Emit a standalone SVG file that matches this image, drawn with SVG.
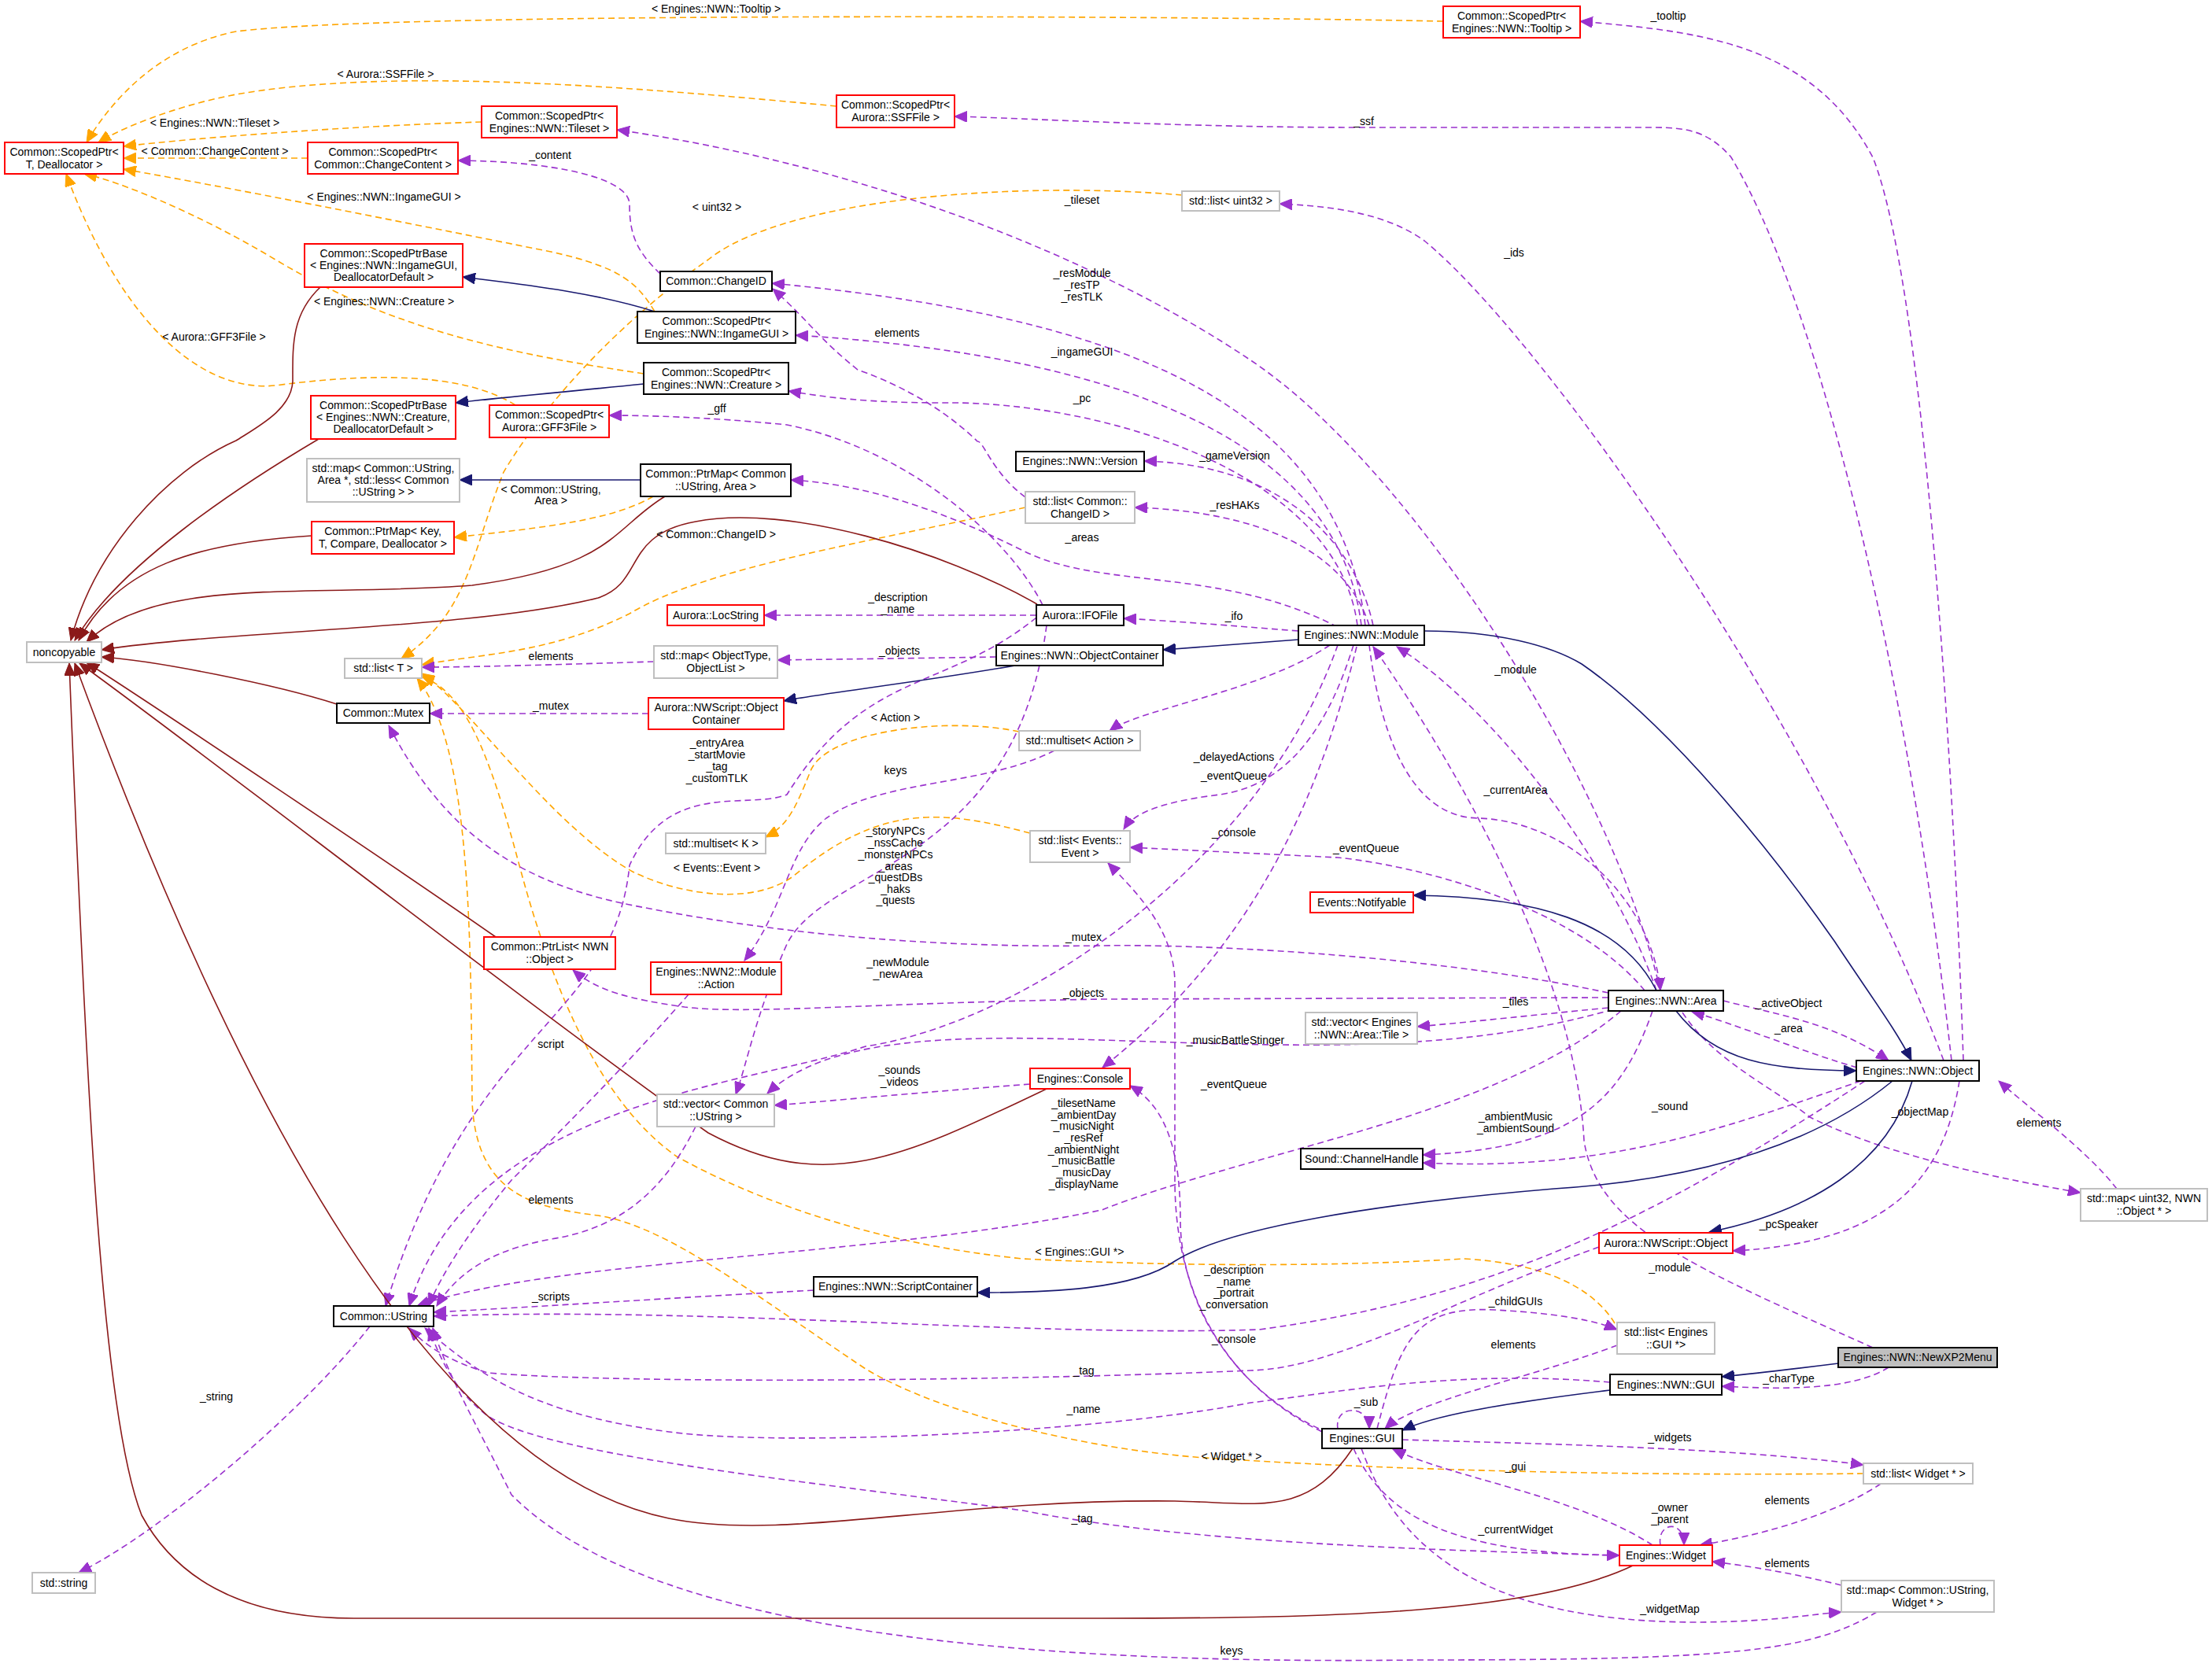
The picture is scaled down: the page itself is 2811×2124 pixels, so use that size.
<svg xmlns="http://www.w3.org/2000/svg" width="2811" height="2124" viewBox="0 0 2811 2124">
<style>
text{font-family:"Liberation Sans",Arial,sans-serif;font-size:14px;fill:#000}
.nt{text-anchor:middle}
.n rect{fill:#fff;stroke-width:2}
.b rect{stroke:#000}
.r rect{stroke:#ff0000}
.g rect{stroke:#bfbfbf}
.s rect{fill:#bfbfbf;stroke:#000}
path{fill:none;stroke-width:1.6}
.p{stroke:#9a32cd;stroke-dasharray:8,5;marker-end:url(#ap)}
.o{stroke:#ffa500;stroke-dasharray:8,5;marker-end:url(#ao)}
.v{stroke:#191970;marker-end:url(#av)}
.f{stroke:#8b1a1a;marker-end:url(#af)}
.l{text-anchor:middle}
</style>
<defs>
<marker id="ap" markerUnits="userSpaceOnUse" markerWidth="18" markerHeight="14" refX="16" refY="7" orient="auto"><path d="M0,0L16,7L0,14z" style="fill:#9a32cd;stroke:#9a32cd;stroke-width:1"/></marker>
<marker id="ao" markerUnits="userSpaceOnUse" markerWidth="18" markerHeight="14" refX="16" refY="7" orient="auto"><path d="M0,0L16,7L0,14z" style="fill:#ffa500;stroke:#ffa500;stroke-width:1"/></marker>
<marker id="av" markerUnits="userSpaceOnUse" markerWidth="18" markerHeight="14" refX="16" refY="7" orient="auto"><path d="M0,0L16,7L0,14z" style="fill:#191970;stroke:#191970;stroke-width:1"/></marker>
<marker id="af" markerUnits="userSpaceOnUse" markerWidth="18" markerHeight="14" refX="16" refY="7" orient="auto"><path d="M0,0L16,7L0,14z" style="fill:#8b1a1a;stroke:#8b1a1a;stroke-width:1"/></marker>
</defs>
<rect width="2811" height="2124" fill="#fff"/>
<g id="edges">
<path class="o" d="M1834,27 C1500,20 500,15 300,40 C200,60 140,130 110,181"/>
<path class="o" d="M1063,135 C800,110 500,85 300,120 C220,135 150,165 125,181"/>
<path class="o" d="M612,155 C450,160 250,175 157,186"/>
<path class="o" d="M391,201 L157,201"/>
<path class="o" d="M832,396 C810,360 790,340 700,320 C500,280 300,240 157,215"/>
<path class="o" d="M818,475 C650,450 500,420 350,330 C250,270 150,230 107,221"/>
<path class="o" d="M655,515 C600,480 500,470 350,490 C250,500 150,400 84,221"/>
<path class="o" d="M1502,248 C1300,230 1000,250 900,330 C800,400 700,500 640,600 C600,700 596,780 510,837"/>
<path class="o" d="M1303,645 C1100,690 900,720 800,780 C700,830 620,830 536,845"/>
<path class="o" d="M1309,1059 C1200,1030 1120,1020 1009,1113 C960,1150 870,1140 804,1108 C700,1050 600,900 536,856"/>
<path class="o" d="M1295,930 C1200,910 1050,930 1030,980 C1010,1030 1000,1050 973,1064"/>
<path class="o" d="M830,631 C780,660 700,670 577,683"/>
<path class="o" d="M2052,1682 C2020,1630 1950,1605 1860,1600 C1700,1610 1500,1610 1300,1600 C1100,1580 950,1520 860,1470 C760,1400 700,1250 660,1100 C620,950 590,880 536,860"/>
<path class="o" d="M2368,1873 C2100,1876 1800,1870 1565,1855 C1400,1848 1200,1800 1100,1740 C950,1640 850,1560 760,1545 C680,1535 605,1520 600,1400 C598,1200 600,950 530,862"/>
<path class="p" d="M2495,1348 C2480,900 2440,350 2380,200 C2300,50 2150,40 2008,27"/>
<path class="p" d="M2480,1348 C2430,900 2320,400 2200,200 C2170,165 2140,162 2100,162 L1733,162 C1500,162 1300,150 1213,148"/>
<path class="p" d="M2110,1259 C2050,1000 1800,600 1591,459 C1400,330 1100,210 784,165"/>
<path class="p" d="M2470,1348 C2300,900 1950,420 1810,306 C1760,270 1690,262 1626,259"/>
<path class="p" d="M1735,795 C1700,500 1400,400 981,360"/>
<path class="p" d="M1730,795 C1700,550 1400,450 1011,426"/>
<path class="p" d="M1303,632 C1260,600 1250,560 1242,561 C1180,500 1100,474 1090,470 C1040,430 1030,410 982,367"/>
<path class="p" d="M1725,795 C1700,600 1400,510 1200,512 C1100,512 1050,505 1002,497"/>
<path class="p" d="M1325,769 C1280,680 1150,570 1000,540 C900,530 820,528 774,528"/>
<path class="p" d="M1700,797 C1550,720 1400,750 1300,700 C1200,650 1100,615 1005,610"/>
<path class="p" d="M1745,795 C1720,680 1620,590 1454,586"/>
<path class="p" d="M1740,795 C1710,700 1600,650 1442,645"/>
<path class="p" d="M1650,802 C1560,795 1500,790 1428,786"/>
<path class="p" d="M1317,782 L971,782"/>
<path class="p" d="M1266,835 C1150,837 1050,838 988,839"/>
<path class="p" d="M831,841 C700,845 600,848 536,848"/>
<path class="p" d="M824,907 L546,907"/>
<path class="p" d="M2044,1262 C1800,1210 1500,1200 1400,1202 C1200,1205 1000,1190 800,1150 C650,1120 560,1050 494,922"/>
<path class="p" d="M1690,820 C1600,880 1450,900 1410,929"/>
<path class="p" d="M1340,954 C1250,1000 1120,990 1050,1040 C1000,1080 1000,1150 946,1221"/>
<path class="p" d="M1720,820 C1680,950 1620,1000 1550,1010 C1470,1020 1440,1035 1428,1054"/>
<path class="p" d="M2090,1259 C2000,1150 1800,1100 1700,1090 L1436,1077"/>
<path class="p" d="M1680,1820 C1560,1760 1493,1650 1493,1500 L1493,1250 C1493,1180 1440,1130 1408,1097"/>
<path class="p" d="M1724,822 C1680,1000 1600,1200 1401,1357"/>
<path class="p" d="M1676,1816 C1560,1760 1500,1650 1500,1550 C1500,1440 1470,1400 1436,1380"/>
<path class="p" d="M1309,1378 C1150,1390 1050,1400 984,1405"/>
<path class="p" d="M2050,1283 C1850,1340 1650,1330 1400,1322 C1200,1315 1050,1320 975,1390"/>
<path class="p" d="M1330,795 C1290,1100 1050,1100 1000,1200 C960,1290 950,1350 935,1391"/>
<path class="p" d="M1317,785 C1200,880 1100,850 1000,1010 C950,1030 850,990 800,1100 C780,1300 600,1300 490,1660"/>
<path class="p" d="M1700,820 C1600,1100 1300,1300 1100,1330 C950,1380 600,1400 520,1660"/>
<path class="p" d="M2190,1272 C2260,1290 2330,1300 2400,1348"/>
<path class="p" d="M2360,1357 C2300,1340 2200,1300 2150,1286"/>
<path class="p" d="M2105,1259 C2050,1100 1900,900 1775,822"/>
<path class="p" d="M1740,820 C1750,900 1780,1040 1880,1040 C2000,1045 2100,1150 2110,1259"/>
<path class="p" d="M2044,1268 L1400,1270 C1100,1275 950,1290 870,1280 C800,1270 760,1260 728,1233"/>
<path class="p" d="M2044,1281 C1950,1290 1880,1298 1801,1305"/>
<path class="p" d="M2380,1713 C2150,1610 2030,1560 2013,1450 C2000,1200 1800,900 1745,822"/>
<path class="p" d="M2060,1285 C1900,1420 1600,1460 1400,1538 C1100,1600 700,1600 530,1660"/>
<path class="p" d="M2100,1285 C2060,1400 2000,1460 1808,1468"/>
<path class="p" d="M2365,1374 C2200,1430 2050,1490 1808,1478"/>
<path class="p" d="M1034,1640 C850,1650 700,1660 551,1668"/>
<path class="p" d="M2370,1374 C2100,1550 1900,1650 1600,1690 C1300,1700 900,1660 551,1673"/>
<path class="p" d="M2032,1585 C1850,1650 1700,1740 1589,1742 C1300,1755 800,1760 620,1745 C570,1730 540,1710 520,1688"/>
<path class="p" d="M2046,1757 C1850,1740 1700,1770 1589,1783 C1400,1820 1000,1840 850,1820 C700,1800 620,1760 540,1688"/>
<path class="p" d="M2058,1977 C1800,1970 1500,1960 1300,1920 C1000,1880 700,1850 620,1800 C580,1770 560,1730 545,1688"/>
<path class="p" d="M2100,1964 C2000,1900 1850,1880 1770,1842"/>
<path class="p" d="M1720,1841 C1760,1930 1850,1975 2058,1977"/>
<path class="p" d="M1782,1830 C1950,1835 2200,1840 2368,1862"/>
<path class="p" d="M2390,1886 C2340,1920 2250,1950 2160,1964"/>
<path class="p" d="M2110,1964 C2105,1935 2140,1930 2140,1964"/>
<path class="p" d="M2340,2015 C2280,2000 2220,1990 2176,1985"/>
<path class="p" d="M1730,1841 C1780,1980 1900,2060 2150,2062 C2250,2062 2300,2052 2340,2049"/>
<path class="p" d="M2385,2049 C2300,2100 2200,2110 1800,2110 C1000,2120 750,2000 650,1900 C600,1800 570,1750 550,1688"/>
<path class="p" d="M1700,1816 C1695,1785 1740,1785 1740,1816"/>
<path class="p" d="M1750,1816 C1780,1700 1800,1660 1900,1665 C1990,1670 2030,1680 2055,1690"/>
<path class="p" d="M2055,1710 C1950,1750 1800,1780 1760,1816"/>
<path class="p" d="M2400,1738 C2350,1770 2250,1765 2188,1762"/>
<path class="p" d="M2490,1374 C2470,1500 2400,1580 2202,1590"/>
<path class="p" d="M2138,1287 C2180,1350 2250,1380 2300,1420 C2400,1470 2550,1500 2644,1516"/>
<path class="p" d="M2690,1511 C2650,1460 2580,1410 2540,1374"/>
<path class="p" d="M839,348 C810,320 800,300 800,260 C800,225 700,205 582,204"/>
<path class="p" d="M875,1264 C800,1350 700,1450 650,1500 C600,1560 560,1620 545,1660"/>
<path class="p" d="M884,1432 C850,1500 800,1560 700,1575 C620,1590 580,1620 555,1660"/>
<path class="p" d="M470,1686 C380,1800 200,1950 100,1999"/>
<path class="v" d="M832,396 C750,370 650,360 588,352"/>
<path class="v" d="M818,488 C700,500 640,505 579,512"/>
<path class="v" d="M814,610 L584,610"/>
<path class="v" d="M1650,813 L1478,826"/>
<path class="v" d="M1290,846 C1150,870 1050,880 996,891"/>
<path class="v" d="M2105,1259 C2060,1170 1950,1140 1796,1138"/>
<path class="v" d="M2130,1285 C2180,1350 2250,1360 2359,1361"/>
<path class="v" d="M1810,802 C1900,802 1970,820 2010,844 C2120,920 2250,1080 2331,1196 C2380,1270 2410,1310 2429,1348"/>
<path class="v" d="M2405,1374 C2300,1460 2150,1500 1975,1511 C1750,1530 1560,1560 1493,1603 C1440,1640 1330,1643 1242,1643"/>
<path class="v" d="M2430,1374 C2400,1480 2300,1540 2172,1566"/>
<path class="v" d="M2336,1733 C2280,1740 2240,1745 2188,1750"/>
<path class="v" d="M2046,1767 C1900,1785 1820,1800 1782,1818"/>
<path class="f" d="M407,365 C370,400 372,440 372,485 C370,520 330,541 300,560 C210,600 120,700 90,814"/>
<path class="f" d="M405,558 C300,620 150,720 95,814"/>
<path class="f" d="M396,681 C250,690 150,720 100,814"/>
<path class="f" d="M845,631 C780,670 780,720 600,744 C400,760 200,730 110,816"/>
<path class="f" d="M1318,768 C1200,700 1000,640 884,663 C790,680 820,740 760,760 C600,800 300,800 129,826"/>
<path class="f" d="M428,895 C350,870 200,840 129,835"/>
<path class="f" d="M630,1191 C500,1100 200,900 110,842"/>
<path class="f" d="M1330,1384 C1150,1470 1050,1520 900,1440 C700,1300 250,950 101,843"/>
<path class="f" d="M1719,1841 C1660,1930 1600,1910 1493,1908 C1200,1905 1000,1960 850,1930 C550,1870 300,1400 95,843"/>
<path class="f" d="M2075,1990 C1950,2050 1700,2057 1400,2057 L450,2057 C300,2057 220,2000 180,1926 C130,1800 110,1400 88,843"/>
</g>
<g id="labels">
<text class="l" x="910" y="16">&lt; Engines::NWN::Tooltip &gt;</text>
<text class="l" x="490" y="99">&lt; Aurora::SSFFile &gt;</text>
<text class="l" x="273" y="161">&lt; Engines::NWN::Tileset &gt;</text>
<text class="l" x="273" y="197">&lt; Common::ChangeContent &gt;</text>
<text class="l" x="488" y="255">&lt; Engines::NWN::IngameGUI &gt;</text>
<text class="l" x="488" y="388">&lt; Engines::NWN::Creature &gt;</text>
<text class="l" x="272" y="433">&lt; Aurora::GFF3File &gt;</text>
<text class="l" x="911" y="268">&lt; uint32 &gt;</text>
<text class="l" x="700" y="627">&lt; Common::UString,</text>
<text class="l" x="700" y="641">Area &gt;</text>
<text class="l" x="910" y="684">&lt; Common::ChangeID &gt;</text>
<text class="l" x="1138" y="917">&lt; Action &gt;</text>
<text class="l" x="911" y="1108">&lt; Events::Event &gt;</text>
<text class="l" x="1372" y="1596">&lt; Engines::GUI *&gt;</text>
<text class="l" x="1565" y="1856">&lt; Widget * &gt;</text>
<text class="l" x="2120" y="25">_tooltip</text>
<text class="l" x="1733" y="159">_ssf</text>
<text class="l" x="1375" y="259">_tileset</text>
<text class="l" x="1924" y="326">_ids</text>
<text class="l" x="1375" y="352">_resModule</text>
<text class="l" x="1375" y="367">_resTP</text>
<text class="l" x="1375" y="382">_resTLK</text>
<text class="l" x="1140" y="428">elements</text>
<text class="l" x="1375" y="452">_ingameGUI</text>
<text class="l" x="1375" y="511">_pc</text>
<text class="l" x="911" y="524">_gff</text>
<text class="l" x="699" y="202">_content</text>
<text class="l" x="1375" y="688">_areas</text>
<text class="l" x="1569" y="584">_gameVersion</text>
<text class="l" x="1569" y="647">_resHAKs</text>
<text class="l" x="1568" y="788">_ifo</text>
<text class="l" x="1141" y="764">_description</text>
<text class="l" x="1141" y="779">_name</text>
<text class="l" x="1143" y="832">_objects</text>
<text class="l" x="700" y="839">elements</text>
<text class="l" x="700" y="902">_mutex</text>
<text class="l" x="1568" y="967">_delayedActions</text>
<text class="l" x="911" y="949">_entryArea</text>
<text class="l" x="911" y="964">_startMovie</text>
<text class="l" x="911" y="979">_tag</text>
<text class="l" x="911" y="994">_customTLK</text>
<text class="l" x="1138" y="984">keys</text>
<text class="l" x="1568" y="991">_eventQueue</text>
<text class="l" x="1568" y="1063">_console</text>
<text class="l" x="1736" y="1083">_eventQueue</text>
<text class="l" x="1138" y="1061">_storyNPCs</text>
<text class="l" x="1138" y="1076">_nssCache</text>
<text class="l" x="1138" y="1091">_monsterNPCs</text>
<text class="l" x="1138" y="1106">_areas</text>
<text class="l" x="1138" y="1120">_questDBs</text>
<text class="l" x="1138" y="1135">_haks</text>
<text class="l" x="1138" y="1149">_quests</text>
<text class="l" x="1926" y="856">_module</text>
<text class="l" x="1926" y="1009">_currentArea</text>
<text class="l" x="1377" y="1196">_mutex</text>
<text class="l" x="1141" y="1228">_newModule</text>
<text class="l" x="1141" y="1243">_newArea</text>
<text class="l" x="1377" y="1267">_objects</text>
<text class="l" x="1926" y="1278">_tiles</text>
<text class="l" x="700" y="1332">script</text>
<text class="l" x="1570" y="1327">_musicBattleStinger</text>
<text class="l" x="1143" y="1365">_sounds</text>
<text class="l" x="1143" y="1380">_videos</text>
<text class="l" x="1568" y="1383">_eventQueue</text>
<text class="l" x="1377" y="1407">_tilesetName</text>
<text class="l" x="1377" y="1422">_ambientDay</text>
<text class="l" x="1377" y="1436">_musicNight</text>
<text class="l" x="1377" y="1451">_resRef</text>
<text class="l" x="1377" y="1466">_ambientNight</text>
<text class="l" x="1377" y="1480">_musicBattle</text>
<text class="l" x="1377" y="1495">_musicDay</text>
<text class="l" x="1377" y="1510">_displayName</text>
<text class="l" x="2273" y="1280">_activeObject</text>
<text class="l" x="2273" y="1312">_area</text>
<text class="l" x="1926" y="1424">_ambientMusic</text>
<text class="l" x="1926" y="1439">_ambientSound</text>
<text class="l" x="2122" y="1411">_sound</text>
<text class="l" x="2440" y="1418">_objectMap</text>
<text class="l" x="2591" y="1432">elements</text>
<text class="l" x="2273" y="1561">_pcSpeaker</text>
<text class="l" x="2122" y="1616">_module</text>
<text class="l" x="700" y="1530">elements</text>
<text class="l" x="1568" y="1619">_description</text>
<text class="l" x="1568" y="1634">_name</text>
<text class="l" x="1568" y="1648">_portrait</text>
<text class="l" x="1568" y="1663">_conversation</text>
<text class="l" x="700" y="1653">_scripts</text>
<text class="l" x="1926" y="1659">_childGUIs</text>
<text class="l" x="1923" y="1714">elements</text>
<text class="l" x="1568" y="1707">_console</text>
<text class="l" x="1377" y="1747">_tag</text>
<text class="l" x="2273" y="1757">_charType</text>
<text class="l" x="1736" y="1787">_sub</text>
<text class="l" x="1377" y="1796">_name</text>
<text class="l" x="275" y="1780">_string</text>
<text class="l" x="2122" y="1832">_widgets</text>
<text class="l" x="1926" y="1869">_gui</text>
<text class="l" x="2271" y="1912">elements</text>
<text class="l" x="2122" y="1921">_owner</text>
<text class="l" x="2122" y="1936">_parent</text>
<text class="l" x="1375" y="1935">_tag</text>
<text class="l" x="1926" y="1949">_currentWidget</text>
<text class="l" x="2271" y="1992">elements</text>
<text class="l" x="2122" y="2050">_widgetMap</text>
<text class="l" x="1565" y="2103">keys</text>
</g>
<g id="n1" class="n r"><rect x="6" y="181" width="151" height="40"/><text class="nt" x="81.5" y="198">Common::ScopedPtr&lt;</text><text class="nt" x="81.5" y="214">T, Deallocator &gt;</text></g>
<g id="n2" class="n r"><rect x="391" y="181" width="191" height="40"/><text class="nt" x="486.5" y="198">Common::ScopedPtr&lt;</text><text class="nt" x="486.5" y="214">Common::ChangeContent &gt;</text></g>
<g id="n3" class="n r"><rect x="612" y="135" width="172" height="40"/><text class="nt" x="698" y="152">Common::ScopedPtr&lt;</text><text class="nt" x="698" y="168">Engines::NWN::Tileset &gt;</text></g>
<g id="n4" class="n r"><rect x="1063" y="121" width="150" height="41"/><text class="nt" x="1138" y="138">Common::ScopedPtr&lt;</text><text class="nt" x="1138" y="154">Aurora::SSFFile &gt;</text></g>
<g id="n5" class="n r"><rect x="1834" y="8" width="174" height="40"/><text class="nt" x="1921" y="25">Common::ScopedPtr&lt;</text><text class="nt" x="1921" y="41">Engines::NWN::Tooltip &gt;</text></g>
<g id="n6" class="n r"><rect x="387" y="310" width="201" height="55"/><text class="nt" x="487.5" y="327">Common::ScopedPtrBase</text><text class="nt" x="487.5" y="342">&lt; Engines::NWN::IngameGUI,</text><text class="nt" x="487.5" y="357">DeallocatorDefault &gt;</text></g>
<g id="n7" class="n b"><rect x="839" y="345" width="142" height="25"/><text class="nt" x="910" y="362">Common::ChangeID</text></g>
<g id="n8" class="n b"><rect x="810" y="396" width="201" height="40"/><text class="nt" x="910.5" y="413">Common::ScopedPtr&lt;</text><text class="nt" x="910.5" y="429">Engines::NWN::IngameGUI &gt;</text></g>
<g id="n9" class="n b"><rect x="818" y="461" width="184" height="40"/><text class="nt" x="910" y="478">Common::ScopedPtr&lt;</text><text class="nt" x="910" y="494">Engines::NWN::Creature &gt;</text></g>
<g id="n10" class="n r"><rect x="395" y="503" width="184" height="55"/><text class="nt" x="487" y="520">Common::ScopedPtrBase</text><text class="nt" x="487" y="535">&lt; Engines::NWN::Creature,</text><text class="nt" x="487" y="550">DeallocatorDefault &gt;</text></g>
<g id="n11" class="n r"><rect x="622" y="515" width="152" height="41"/><text class="nt" x="698" y="532">Common::ScopedPtr&lt;</text><text class="nt" x="698" y="548">Aurora::GFF3File &gt;</text></g>
<g id="n12" class="n g"><rect x="390" y="583" width="194" height="55"/><text class="nt" x="487" y="600">std::map&lt; Common::UString,</text><text class="nt" x="487" y="615">Area *, std::less&lt; Common</text><text class="nt" x="487" y="630">::UString &gt; &gt;</text></g>
<g id="n13" class="n b"><rect x="814" y="590" width="191" height="41"/><text class="nt" x="909.5" y="607">Common::PtrMap&lt; Common</text><text class="nt" x="909.5" y="623">::UString, Area &gt;</text></g>
<g id="n14" class="n r"><rect x="396" y="663" width="181" height="41"/><text class="nt" x="486.5" y="680">Common::PtrMap&lt; Key,</text><text class="nt" x="486.5" y="696">T, Compare, Deallocator &gt;</text></g>
<g id="n15" class="n r"><rect x="848" y="769" width="123" height="26"/><text class="nt" x="909.5" y="787">Aurora::LocString</text></g>
<g id="n16" class="n g"><rect x="1502" y="243" width="124" height="25"/><text class="nt" x="1564" y="260">std::list&lt; uint32 &gt;</text></g>
<g id="n17" class="n b"><rect x="1291" y="574" width="163" height="25"/><text class="nt" x="1372.5" y="591">Engines::NWN::Version</text></g>
<g id="n18" class="n g"><rect x="1303" y="625" width="139" height="40"/><text class="nt" x="1372.5" y="642">std::list&lt; Common::</text><text class="nt" x="1372.5" y="658">ChangeID &gt;</text></g>
<g id="n19" class="n b"><rect x="1317" y="769" width="111" height="26"/><text class="nt" x="1372.5" y="787">Aurora::IFOFile</text></g>
<g id="n20" class="n g"><rect x="34" y="816" width="95" height="26"/><text class="nt" x="81.5" y="834">noncopyable</text></g>
<g id="n21" class="n g"><rect x="438" y="837" width="98" height="25"/><text class="nt" x="487" y="854">std::list&lt; T &gt;</text></g>
<g id="n22" class="n g"><rect x="831" y="821" width="157" height="41"/><text class="nt" x="909.5" y="838">std::map&lt; ObjectType,</text><text class="nt" x="909.5" y="854">ObjectList &gt;</text></g>
<g id="n23" class="n b"><rect x="1266" y="820" width="212" height="26"/><text class="nt" x="1372" y="838">Engines::NWN::ObjectContainer</text></g>
<g id="n24" class="n b"><rect x="428" y="894" width="118" height="25"/><text class="nt" x="487" y="911">Common::Mutex</text></g>
<g id="n25" class="n r"><rect x="824" y="887" width="172" height="40"/><text class="nt" x="910" y="904">Aurora::NWScript::Object</text><text class="nt" x="910" y="920">Container</text></g>
<g id="n26" class="n g"><rect x="1295" y="929" width="154" height="25"/><text class="nt" x="1372" y="946">std::multiset&lt; Action &gt;</text></g>
<g id="n27" class="n g"><rect x="846" y="1059" width="127" height="26"/><text class="nt" x="909.5" y="1077">std::multiset&lt; K &gt;</text></g>
<g id="n28" class="n g"><rect x="1309" y="1056" width="127" height="40"/><text class="nt" x="1372.5" y="1073">std::list&lt; Events::</text><text class="nt" x="1372.5" y="1089">Event &gt;</text></g>
<g id="n29" class="n r"><rect x="615" y="1191" width="167" height="41"/><text class="nt" x="698.5" y="1208">Common::PtrList&lt; NWN</text><text class="nt" x="698.5" y="1224">::Object &gt;</text></g>
<g id="n30" class="n r"><rect x="827" y="1223" width="166" height="41"/><text class="nt" x="910" y="1240">Engines::NWN2::Module</text><text class="nt" x="910" y="1256">::Action</text></g>
<g id="n31" class="n r"><rect x="1309" y="1358" width="127" height="26"/><text class="nt" x="1372.5" y="1376">Engines::Console</text></g>
<g id="n32" class="n g"><rect x="835" y="1391" width="149" height="41"/><text class="nt" x="909.5" y="1408">std::vector&lt; Common</text><text class="nt" x="909.5" y="1424">::UString &gt;</text></g>
<g id="n33" class="n b"><rect x="1650" y="795" width="160" height="25"/><text class="nt" x="1730" y="812">Engines::NWN::Module</text></g>
<g id="n34" class="n r"><rect x="1665" y="1134" width="131" height="26"/><text class="nt" x="1730.5" y="1152">Events::Notifyable</text></g>
<g id="n35" class="n b"><rect x="2044" y="1259" width="146" height="26"/><text class="nt" x="2117" y="1277">Engines::NWN::Area</text></g>
<g id="n36" class="n g"><rect x="1659" y="1287" width="142" height="40"/><text class="nt" x="1730" y="1304">std::vector&lt; Engines</text><text class="nt" x="1730" y="1320">::NWN::Area::Tile &gt;</text></g>
<g id="n37" class="n b"><rect x="2359" y="1348" width="156" height="26"/><text class="nt" x="2437" y="1366">Engines::NWN::Object</text></g>
<g id="n38" class="n b"><rect x="1653" y="1460" width="155" height="26"/><text class="nt" x="1730.5" y="1478">Sound::ChannelHandle</text></g>
<g id="n39" class="n g"><rect x="2644" y="1511" width="161" height="41"/><text class="nt" x="2724.5" y="1528">std::map&lt; uint32, NWN</text><text class="nt" x="2724.5" y="1544">::Object * &gt;</text></g>
<g id="n40" class="n r"><rect x="2032" y="1567" width="170" height="26"/><text class="nt" x="2117" y="1585">Aurora::NWScript::Object</text></g>
<g id="n41" class="n g"><rect x="2055" y="1681" width="124" height="40"/><text class="nt" x="2117" y="1698">std::list&lt; Engines</text><text class="nt" x="2117" y="1714">::GUI *&gt;</text></g>
<g id="n42" class="n s"><rect x="2336" y="1713" width="202" height="25"/><text class="nt" x="2437" y="1730">Engines::NWN::NewXP2Menu</text></g>
<g id="n43" class="n b"><rect x="2046" y="1747" width="142" height="26"/><text class="nt" x="2117" y="1765">Engines::NWN::GUI</text></g>
<g id="n44" class="n b"><rect x="1680" y="1816" width="102" height="25"/><text class="nt" x="1731" y="1833">Engines::GUI</text></g>
<g id="n45" class="n g"><rect x="2368" y="1860" width="139" height="26"/><text class="nt" x="2437.5" y="1878">std::list&lt; Widget * &gt;</text></g>
<g id="n46" class="n r"><rect x="2058" y="1964" width="118" height="26"/><text class="nt" x="2117" y="1982">Engines::Widget</text></g>
<g id="n47" class="n g"><rect x="2340" y="2009" width="194" height="40"/><text class="nt" x="2437" y="2026">std::map&lt; Common::UString,</text><text class="nt" x="2437" y="2042">Widget * &gt;</text></g>
<g id="n48" class="n b"><rect x="1034" y="1623" width="208" height="25"/><text class="nt" x="1138" y="1640">Engines::NWN::ScriptContainer</text></g>
<g id="n49" class="n b"><rect x="424" y="1660" width="127" height="26"/><text class="nt" x="487.5" y="1678">Common::UString</text></g>
<g id="n50" class="n g"><rect x="41" y="1999" width="80" height="26"/><text class="nt" x="81" y="2017">std::string</text></g>
</svg>
